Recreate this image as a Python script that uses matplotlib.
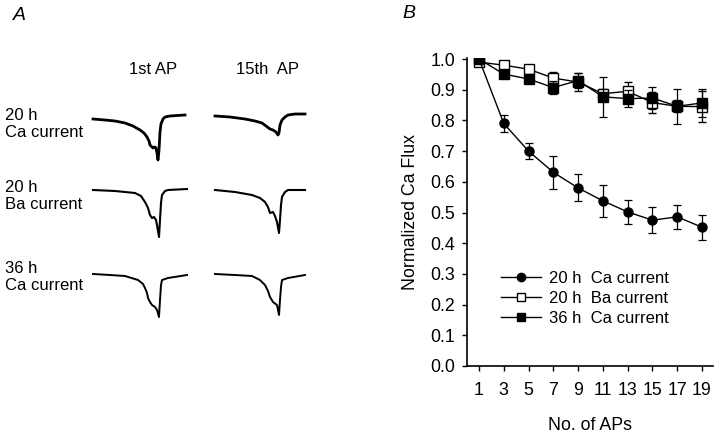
import matplotlib
matplotlib.use("Agg")
import matplotlib.pyplot as plt
from matplotlib.lines import Line2D

plt.rcParams['font.family'] = ['Liberation Sans', 'DejaVu Sans']

# ---------------- Panel B data ----------------
aps = [1, 3, 5, 7, 9, 11, 13, 15, 17, 19]
ca20 = [1.0, 0.79, 0.70, 0.631, 0.58, 0.538, 0.502, 0.475, 0.486, 0.452]
ca20_err = [0.0, 0.027, 0.027, 0.054, 0.044, 0.053, 0.04, 0.043, 0.04, 0.04]
ba20 = [0.99, 0.98, 0.967, 0.938, 0.925, 0.887, 0.895, 0.858, 0.846, 0.845]
ba20_err = [0.0, 0.015, 0.006, 0.02, 0.03, 0.015, 0.03, 0.035, 0.02, 0.05]
ca36 = [1.0, 0.951, 0.935, 0.907, 0.93, 0.877, 0.871, 0.873, 0.846, 0.857]
ca36_err = [0.0, 0.012, 0.013, 0.02, 0.025, 0.066, 0.027, 0.035, 0.058, 0.045]
series_names = ["20 h  Ca current", "20 h  Ba current", "36 h  Ca current"]
xticks = [1, 3, 5, 7, 9, 11, 13, 15, 17, 19]
yticks = [0.0, 0.1, 0.2, 0.3, 0.4, 0.5, 0.6, 0.7, 0.8, 0.9, 1.0]

# ---------------- Panel A trace data (time offset, current; arbitrary units) ----------------
t_ca20_1 = [0, 12, 22, 32, 40, 47, 51, 54, 56, 57, 59, 60, 62, 63, 64, 65, 66, 67, 68, 70, 72, 77, 92]
i_ca20_1 = [0, -1, -2, -4, -7, -11, -14, -18, -22, -26, -28, -29, -28, -29, -34, -41, -31, -13, -5, 0, 2, 3, 4]
t_ca20_15 = [0, 15, 30, 40, 47, 51, 55, 58, 61, 63, 64, 65, 67, 70, 73, 80, 90]
i_ca20_15 = [0, -1, -3, -5, -7, -10, -13, -14, -16, -19, -17, -9, -4, -1, 1, 2, 2]
t_ba20_1 = [0, 22, 42, 48, 52, 55, 57, 59, 61, 63, 64, 66, 67, 68, 69, 72, 75, 94]
i_ba20_1 = [0, -1, -3, -6, -12, -18, -25, -28, -27, -30, -35, -47, -30, -13, -5, -1, 0, 1]
t_ba20_15 = [0, 20, 37, 45, 50, 53, 55, 58, 60, 62, 64, 65, 66, 67, 70, 73, 90]
i_ba20_15 = [0, -2, -5, -8, -12, -17, -23, -22, -26, -32, -43, -30, -15, -7, -2, 0, 0]
t_ca36_1 = [0, 17, 32, 45, 50, 52, 54, 55, 57, 59, 62, 64, 66, 67, 68, 69, 75, 94]
i_ca36_1 = [0, -1, -2, -6, -10, -14, -19, -24, -28, -31, -33, -36, -43, -26, -11, -6, -4, -1]
t_ca36_15 = [0, 20, 37, 45, 50, 53, 55, 58, 62, 64, 65, 66, 67, 73, 90]
i_ca36_15 = [0, -1, -2, -6, -11, -17, -23, -28, -31, -41, -26, -13, -6, -4, -1]

row_labels = ["20 h\nCa current", "20 h\nBa current", "36 h\nCa current"]
col_labels = ["1st AP", "15th  AP"]

W, H = 720, 437
fig = plt.figure(figsize=(W / 100, H / 100), dpi=100)

# ---------------- Panel A ----------------
axA = fig.add_axes([0, 0, 1, 1])
axA.set_xlim(0, W)
axA.set_ylim(H, 0)
axA.axis('off')

col_x0 = [93, 215]
row_y0 = [[119, 116], [190, 190], [274, 274]]
traces = [
    [(t_ca20_1, i_ca20_1), (t_ca20_15, i_ca20_15)],
    [(t_ba20_1, i_ba20_1), (t_ba20_15, i_ba20_15)],
    [(t_ca36_1, i_ca36_1), (t_ca36_15, i_ca36_15)],
]
lws = [2.0, 1.5, 1.4]
for r in range(3):
    for c in range(2):
        t, cur = traces[r][c]
        axA.plot([col_x0[c] + v for v in t], [row_y0[r][c] - v for v in cur],
                 color='black', lw=lws[r], solid_joinstyle='round')

fs = 12
fsB = 12.8
fig.text(13 / W, 1 - 16 / H, "A", fontsize=14, style='italic', va='center', ha='left')
fig.text(402 / W, 1 - 14 / H, "B", fontsize=14, style='italic', va='center', ha='left')
fig.text(153 / W, 1 - 70 / H, col_labels[0], fontsize=fs, ha='center', va='center')
fig.text(267 / W, 1 - 70 / H, col_labels[1], fontsize=fs, ha='center', va='center')
row_text_y = [124, 196, 277]
for r in range(3):
    fig.text(5 / W, 1 - row_text_y[r] / H, row_labels[r], fontsize=fs, ha='left',
             va='center', linespacing=1.2)

# ---------------- Panel B ----------------
left, right, top, bottom = 467, 713, 57.5, 366
axB = fig.add_axes([left / W, 1 - bottom / H, (right - left) / W, (bottom - top) / H])
axB.set_xlim(0.03, 19.89)
axB.set_ylim(0, 1.005)
for s in ['top', 'right']:
    axB.spines[s].set_visible(False)
for s in ['left', 'bottom']:
    axB.spines[s].set_linewidth(1.2)

ekw = dict(elinewidth=0.9, capsize=3, capthick=0.9, ecolor='black')
axB.errorbar(aps, ba20, yerr=ba20_err, fmt='-s', color='black', mfc='white',
             mec='black', ms=6.5, mew=1.0, lw=1.0, zorder=3, **ekw)
axB.errorbar(aps, ca36, yerr=ca36_err, fmt='-s', color='black', mfc='black',
             mec='black', ms=6.5, lw=1.0, zorder=4, **ekw)
axB.errorbar(aps, ca20, yerr=ca20_err, fmt='-o', color='black', mfc='black',
             mec='black', ms=6.5, lw=1.0, zorder=5, **ekw)

axB.set_xticks(xticks)
axB.set_yticks(yticks)
axB.set_yticklabels([f"{v:.1f}" for v in yticks])
axB.tick_params(axis='both', labelsize=fsB, direction='out', length=3.5, width=1.0)
axB.tick_params(axis='x', pad=8)
axB.tick_params(axis='y', pad=5)
axB.set_xlabel("No. of APs", fontsize=fsB, labelpad=13)
axB.set_ylabel("Normalized Ca Flux", fontsize=fsB, labelpad=8)

handles = [
    Line2D([], [], color='black', lw=1.0, marker='o', ms=6, mfc='black'),
    Line2D([], [], color='black', lw=1.0, marker='s', ms=5.5, mfc='white', mew=1.0),
    Line2D([], [], color='black', lw=1.0, marker='s', ms=5.5, mfc='black'),
]
axB.legend(handles, series_names,
           loc='upper left', bbox_to_anchor=(0.105, 0.335), frameon=False,
           fontsize=fs, handlelength=2.4, handletextpad=0.45, labelspacing=0.3,
           borderpad=0)

fig.savefig("out.png", dpi=100)
